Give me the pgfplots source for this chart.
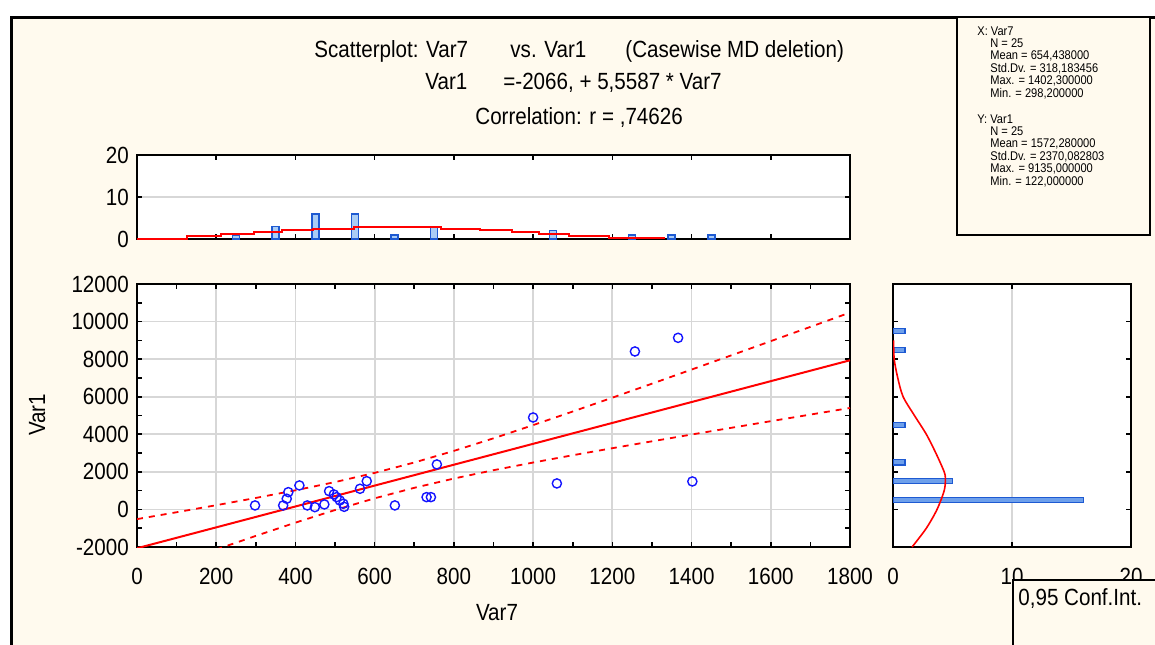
\documentclass[border=0pt]{standalone}
\usepackage{pgfplots}
\pgfplotsset{compat=1.18}
\usepackage{fontspec}
\setmainfont[FakeStretch=0.88]{Liberation Sans}

\definecolor{cream}{RGB}{255,250,238}
\definecolor{gridgray}{RGB}{215,215,215}
\definecolor{ptblue}{RGB}{20,20,255}
\definecolor{barfill}{RGB}{170,205,245}
\definecolor{barfillb}{RGB}{110,160,235}
\definecolor{baredge}{RGB}{30,90,210}
\definecolor{fitred}{RGB}{255,0,0}

\pgfplotsset{
  panel/.style={
    scale only axis, anchor=south west,
    axis background/.style={fill=white},
    axis line style={line width=1pt},
    tick style={black, line width=0.8pt},
    major tick length=2.5pt, minor tick length=2.5pt,
    tick pos=both, tick align=inside,
    scaled x ticks=false, scaled y ticks=false,
    grid style={gridgray, line width=0.9pt},
    tick label style={font=\fontsize{11.7}{14}\selectfont},
    xticklabel style={yshift=-6.5pt},
  },
}

\begin{document}
\fontsize{11.7}{14}\selectfont
\begin{tikzpicture}[font=\fontsize{11.7}{14}\selectfont]
\fill[white] (0,0) rectangle (577.5pt,322pt);
\draw[line width=1.5pt, fill=cream] (5.75pt,-10pt) rectangle (600pt,313.25pt);

% main scatter
\begin{axis}[panel, at={(68.5pt,48.5pt)}, width=356.5pt, height=131.5pt,
  xmin=0, xmax=1800, ymin=-2000, ymax=12000,
  xtick={0,200,...,1800},
  xticklabels={0,200,400,600,800,1000,1200,1400,1600,1800},
  ytick={-2000,0,...,12000},
  yticklabels={-2000,0,2000,4000,6000,8000,10000,12000},
  minor x tick num=1, minor y tick num=1, grid=major]
\addplot[only marks, mark=o, mark size=2.3pt, ptblue, line width=0.7pt] coordinates {
  (298,213) (369,213) (382,920) (378,570) (410,1277) (430,213) (449,122)
  (473,266) (485,974) (497,798) (504,655) (512,479) (521,303) (523,140)
  (563,1100) (580,1506) (651,213) (731,655) (742,655) (757,2395)
  (1000,4896) (1060,1384) (1257,8409) (1366,9135) (1402,1490)};
\addplot[fitred, line width=1pt] coordinates {(0,-2066) (1800,7939.7)};
\addplot[fitred, line width=0.9pt, dash pattern=on 3pt off 3pt] coordinates {
  (0,-515) (100,-149) (200,225) (300,612) (400,1018) (500,1457) (600,1946)
  (700,2499) (800,3117) (900,3786) (1000,4489) (1100,5212) (1200,5949)
  (1300,6694) (1400,7445) (1500,8200) (1600,8958) (1700,9718) (1800,10480)};
\addplot[fitred, line width=0.9pt, dash pattern=on 3pt off 3pt] coordinates {
  (0,-3617) (100,-2871) (200,-2133) (300,-1408) (400,-703) (500,-31) (600,592)
  (700,1151) (800,1645) (900,2088) (1000,2497) (1100,2885) (1200,3260)
  (1300,3626) (1400,3987) (1500,4344) (1600,4698) (1700,5050) (1800,5400)};
\end{axis}

% top histogram (Var7)
\begin{axis}[panel, at={(68.5pt,202.5pt)}, width=356.5pt, height=42pt,
  xmin=0, xmax=1800, ymin=0, ymax=20,
  xtick={200,400,...,1600}, xticklabels={},
  ytick={0,10,20}, yticklabels={0,10,20}, ymajorgrids]
\addplot[ybar, bar width=3.5pt, fill=barfill, draw=baredge, line width=0.8pt] coordinates {
  (250,1) (350,3) (450,6) (550,6) (650,1) (750,3) (1050,2) (1250,1) (1350,1) (1450,1)};
\addplot[fitred, line width=1pt, const plot] coordinates {
  (0,0.1) (127,0.7) (213,1.2) (296,1.7) (366,2.1) (444,2.5) (548,2.9) (767,2.5)
  (865,2.1) (946,1.7) (1015,1.2) (1090,0.7) (1191,0.2) (1332,0.2)};
\end{axis}

% right histogram (Var1)
\begin{axis}[panel, at={(446.5pt,48.5pt)}, width=119pt, height=131.5pt,
  xmin=0, xmax=20, ymin=-2000, ymax=12000,
  xtick={0,10,20}, xticklabels={0,10,20},
  ytick={-2000,0,...,12000}, yticklabels={}, xmajorgrids]
\addplot[xbar, bar width=2.6pt, fill=barfillb, draw=baredge, line width=0.6pt] coordinates {
  (16,500) (5,1500) (1,2500) (1,4500) (1,8500) (1,9500)};
\addplot[fitred, line width=0.8pt, smooth] coordinates {
  (1.6,-2000) (2.8,-1000) (3.7,0) (4.3,1000) (4.4,1600) (4.3,2000) (3.6,3000)
  (2.8,4000) (1.8,5000) (0.85,6000) (0.4,7000) (0.1,8000) (0.05,9000)};
\end{axis}

% titles
\begin{scope}[every node/.style={anchor=base west, inner sep=0pt}]
\node at (157pt,293.35pt) {Scatterplot: Var7};
\node at (255pt,293.35pt) {vs. Var1};
\node at (312.5pt,293.35pt) {(Casewise MD deletion)};
\node at (212.5pt,277pt) {Var1};
\node at (251.5pt,277pt) {=-2066, + 5,5587 * Var7};
\node at (237.5pt,259.85pt) {Correlation: r = ,74626};
\end{scope}

% axis labels
\node[anchor=base] at (248.5pt,12pt) {Var7};
\node[anchor=base, rotate=90] at (22.5pt,114.5pt) {Var1};

% statistics box
\draw[line width=1pt, fill=cream] (478.5pt,204.5pt) rectangle (575pt,313.25pt);
\begin{scope}[every node/.style={anchor=west, inner sep=0pt, font=\fontsize{6.3}{7}\selectfont}]
\node at (488.5pt,306.5pt) {X: Var7};
\node at (495pt,300.25pt) {N = 25};
\node at (495pt,294pt) {Mean = 654,438000};
\node at (495pt,287.75pt) {Std.Dv. = 318,183456};
\node at (495pt,281.5pt) {Max. = 1402,300000};
\node at (495pt,275.25pt) {Min. = 298,200000};
\node at (488.5pt,262.5pt) {Y: Var1};
\node at (495pt,256.25pt) {N = 25};
\node at (495pt,250pt) {Mean = 1572,280000};
\node at (495pt,243.75pt) {Std.Dv. = 2370,082803};
\node at (495pt,237.5pt) {Max. = 9135,000000};
\node at (495pt,231.25pt) {Min. = 122,000000};
\end{scope}

% legend box
\draw[line width=1pt, fill=cream] (506.5pt,-10pt) rectangle (600pt,32pt);
\node[anchor=base west, inner sep=0pt] at (509pt,19.5pt) {0,95 Conf.Int.};

\pgfresetboundingbox
\useasboundingbox (0,0) rectangle (577.5pt,322pt);
\end{tikzpicture}
\end{document}
